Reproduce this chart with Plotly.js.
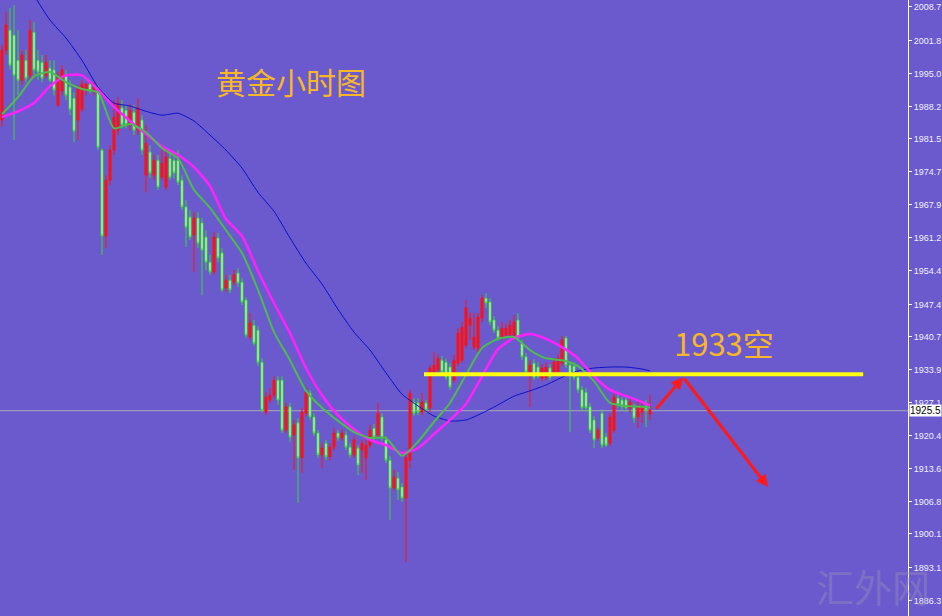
<!DOCTYPE html>
<html>
<head>
<meta charset="utf-8">
<script src="https://cdn.plot.ly/plotly-3.0.1.min.js"></script>
<style>html,body{margin:0;padding:0;background:#6a5acd;}#chart{width:942px;height:616px;}</style>
</head>
<body>
<div id="chart"></div>
<script>
// ---- candle data (hourly gold) ----
const openP = [
1985.4,1999.8,2003.9,2002.9,1997.7,1993.6,1997.7,1994.6,2003.5,1997.7,
1997.3,1994.6,1996.1,1995.7,1988.5,1991.4,1994.4,1992.2,1989.9,1985.4,
1987.6,1991.4,1992.8,1991.4,1991.4,1979.2,1961.5,1973.0,1979.2,1983.3,
1987.9,1987.4,1984.4,1987.0,1983.3,1985.4,1974.0,1978.8,1974.0,1977.1,
1973.6,1971.6,1977.5,1977.1,1977.1,1973.0,1967.5,1965.4,1961.7,1965.2,
1964.2,1961.3,1956.1,1954.1,1961.1,1958.0,1950.8,1952.4,1952.0,1953.9,
1952.0,1948.3,1940.7,1943.1,1942.1,1935.5,1925.2,1927.7,1928.7,1931.8,
1931.8,1921.5,1926.3,1920.5,1923.0,1915.8,1925.0,1929.1,1924.2,1920.9,
1916.4,1918.8,1916.0,1918.0,1920.9,1919.9,1920.5,1918.0,1916.4,1917.8,
1917.4,1915.8,1918.4,1921.9,1920.5,1924.2,1919.5,1915.3,1909.6,1911.6,
1909.8,1907.5,1915.3,1927.3,1927.1,1925.2,1927.1,1926.1,1933.5,1933.9,
1935.9,1935.5,1934.5,1931.8,1935.3,1935.9,1939.0,1943.1,1938.6,1938.4,
1944.6,1948.7,1947.9,1944.2,1942.1,1940.7,1941.1,1941.1,1941.1,1944.2,
1939.4,1936.6,1933.5,1935.3,1934.5,1932.2,1932.4,1934.3,1933.3,1933.5,
1935.3,1940.5,1934.9,1934.7,1932.4,1929.8,1929.3,1926.3,1923.6,1919.9,
1925.0,1920.1,1918.8,1921.5,1928.1,1927.7,1927.7,1926.1,1926.1,1924.2,
1925.2,1926.5,1924.8];
const highP = [
2000.8,2007.6,2008.5,2009.1,2003.9,1999.8,1999.8,2006.0,2005.6,1999.8,
1998.8,1998.8,1997.7,1997.7,1995.3,1996.7,1995.7,1993.6,1991.1,1992.6,
1993.6,1993.2,1993.6,1993.2,1992.6,1979.6,1974.0,1980.2,1989.5,1990.1,
1989.5,1988.5,1988.7,1988.5,1989.9,1986.4,1984.4,1980.2,1978.2,1978.2,
1980.2,1979.2,1979.2,1978.2,1979.2,1974.0,1968.9,1966.8,1966.4,1966.4,
1965.2,1962.7,1957.6,1962.3,1962.1,1959.0,1953.5,1953.5,1954.5,1954.9,
1952.8,1948.9,1945.6,1944.2,1942.9,1936.3,1929.3,1930.2,1932.6,1932.6,
1932.6,1927.1,1927.1,1923.6,1924.0,1926.1,1930.2,1929.8,1925.0,1921.5,
1918.8,1919.5,1918.8,1921.9,1921.5,1921.7,1921.3,1918.8,1920.3,1918.4,
1919.5,1919.5,1922.6,1922.8,1927.1,1925.0,1920.3,1916.2,1913.3,1912.9,
1910.6,1916.6,1929.8,1928.1,1928.1,1929.1,1927.7,1934.9,1937.6,1937.0,
1936.8,1936.3,1935.3,1937.0,1942.5,1943.8,1948.3,1945.8,1945.6,1945.6,
1949.3,1949.7,1948.7,1945.0,1942.9,1943.8,1943.4,1944.2,1945.2,1945.6,
1940.1,1937.4,1935.9,1936.1,1935.5,1935.1,1935.5,1935.1,1936.3,1937.2,
1940.9,1940.9,1935.7,1935.5,1933.3,1930.6,1930.2,1927.1,1924.4,1922.1,
1925.8,1920.9,1925.0,1929.1,1928.7,1928.3,1928.3,1928.1,1926.9,1927.7,
1927.7,1927.7,1928.7];
const lowP = [
1984.0,1998.8,1995.7,1981.3,1990.5,1992.6,1993.2,1993.6,1994.6,1993.6,
1993.2,1994.0,1993.2,1990.5,1988.1,1990.5,1989.5,1986.4,1980.8,1981.3,
1987.0,1990.5,1990.9,1990.5,1979.2,1957.6,1959.0,1972.0,1978.2,1982.3,
1983.7,1983.7,1983.3,1982.3,1982.3,1978.2,1970.5,1973.4,1973.0,1971.0,
1973.0,1971.0,1973.0,1973.4,1972.0,1966.8,1959.2,1960.7,1954.1,1959.0,
1949.3,1954.5,1953.5,1953.5,1956.1,1950.0,1950.0,1949.7,1951.4,1951.0,
1947.3,1940.5,1940.1,1938.8,1934.7,1925.2,1924.6,1927.1,1928.1,1926.7,
1920.9,1920.9,1919.1,1913.3,1906.5,1912.7,1924.4,1923.6,1920.3,1915.8,
1913.7,1915.3,1915.3,1917.4,1919.3,1919.3,1917.4,1915.8,1915.8,1912.2,
1912.7,1911.2,1917.8,1919.5,1919.9,1919.3,1914.7,1903.0,1909.0,1907.1,
1906.7,1894.3,1913.7,1924.4,1924.6,1924.6,1925.0,1925.2,1932.9,1933.3,
1932.9,1931.8,1929.8,1931.2,1934.7,1935.3,1938.4,1940.1,1938.0,1937.6,
1943.8,1946.7,1943.1,1941.5,1939.9,1940.1,1940.5,1940.5,1940.5,1939.9,
1935.9,1932.9,1926.3,1931.8,1932.2,1931.6,1931.8,1931.8,1932.6,1932.9,
1934.7,1934.3,1921.1,1931.8,1929.1,1925.4,1925.2,1920.9,1917.8,1919.3,
1917.8,1918.0,1918.2,1920.9,1926.1,1925.6,1925.2,1925.2,1923.0,1921.9,
1923.0,1922.1,1923.6];
const closeP = [
1999.8,2005.0,1996.7,1994.6,1993.6,1998.8,1994.0,2003.9,1995.7,1995.3,
1994.0,1997.3,1993.6,1991.6,1994.4,1995.7,1990.5,1987.6,1983.1,1991.8,
1992.8,1992.8,1991.4,1992.4,1979.8,1961.5,1973.0,1979.2,1986.0,1988.9,
1984.4,1984.4,1987.4,1983.3,1987.9,1979.2,1980.6,1974.5,1977.1,1971.6,
1976.5,1977.8,1973.6,1974.5,1972.6,1967.5,1963.3,1961.3,1965.2,1960.0,
1958.6,1956.1,1954.1,1961.3,1957.0,1950.4,1952.4,1950.4,1953.5,1951.8,
1947.9,1941.1,1943.6,1939.4,1935.5,1925.6,1928.3,1928.7,1931.8,1927.7,
1921.5,1926.3,1920.1,1922.6,1915.8,1925.2,1929.3,1924.2,1920.9,1916.4,
1917.8,1916.0,1918.0,1920.9,1919.9,1920.9,1918.0,1916.4,1919.5,1914.3,
1918.8,1918.4,1921.5,1920.1,1925.0,1919.9,1915.3,1909.6,1911.8,1909.2,
1907.5,1915.8,1929.1,1925.0,1925.2,1927.3,1925.6,1934.3,1934.9,1936.3,
1933.5,1932.4,1930.4,1935.9,1941.5,1942.7,1946.7,1944.6,1940.7,1944.8,
1948.7,1947.7,1943.8,1942.1,1940.5,1942.5,1942.5,1943.1,1943.8,1940.5,
1936.6,1933.5,1934.9,1932.4,1932.9,1934.3,1934.5,1932.4,1935.5,1936.3,
1940.1,1934.9,1932.9,1932.4,1929.8,1926.1,1926.1,1921.5,1919.5,1921.5,
1918.4,1918.4,1924.2,1928.3,1926.7,1926.3,1926.1,1927.3,1924.0,1926.3,
1926.3,1925.6,1925.6];
const barIndex = closeP.map((_, i) => i);

// ---- moving averages ----
const maIdx = [0,4,8,12,16,20,24,28,32,36,40,44,48,52,56,60,64,68,72,76,80,84,88,92,96,100,104,108,112,116,120,124,128,132,136,140,144,148,152,156,160,162];
const maFast = [1986.6,1990.1,1994.4,1995.3,1993.2,1991.8,1991.1,1983.7,1984.6,1982.9,
1979.6,1977.5,1971.0,1967.3,1962.7,1958.0,1950.4,1941.7,1935.9,1929.6,
1926.1,1923.4,1921.1,1919.9,1919.9,1916.2,1919.1,1923.2,1927.1,1932.9,
1938.4,1940.3,1940.7,1938.0,1936.3,1935.9,1934.7,1931.6,1927.1,1926.5,
1926.3,1926.1];
const maMid = [1986.0,1987.2,1988.9,1992.4,1994.6,1994.6,1991.6,1988.1,1985.2,1982.5,
1980.0,1978.2,1975.7,1971.8,1965.0,1961.5,1954.3,1947.7,1941.5,1934.3,
1928.7,1924.6,1921.7,1919.5,1918.4,1916.8,1917.8,1920.7,1923.6,1926.9,
1932.6,1938.2,1940.5,1941.3,1940.3,1938.6,1936.3,1932.6,1929.8,1928.5,
1927.3,1926.5];
const maSlowIdx = [8,12,16,20,24,28,32,36,40,44,48,52,56,60,64,68,72,76,80,84,88,92,96,100,104,108,112,116,120,124,128,132,136,140,144,148,152,156,160,162];
const maSlow = [2011.1,2006.0,2002.3,1997.7,1992.2,1988.9,1988.3,1987.2,1986.4,1986.8,
1985.2,1982.3,1979.2,1975.5,1970.5,1966.6,1961.1,1955.9,1951.6,1946.4,
1941.7,1938.0,1933.3,1928.9,1926.5,1924.4,1923.4,1923.6,1925.0,1926.7,
1928.5,1929.6,1930.8,1932.4,1933.7,1934.3,1934.5,1934.5,1934.1,1933.7];

// ---- axis labels and levels ----
const priceTicks = [2008.7,2001.8,1995.0,1988.2,1981.5,1974.7,1967.9,1961.2,1954.4,1947.4,1940.7,1933.9,1927.1,1920.4,1913.6,1906.8,1900.1,1893.1,1886.3];
const tickLabels = priceTicks.map(v => v.toFixed(1));
const lastPrice = 1925.5;
const shortLevel = 1933;
const arrowPts = {x: [163.3, 170.3, 191.5], y: [1925.6, 1932.4, 1909.8]};
const lineStartIdx = 105.5, lineEndIdx = 215.3;

const traces = [
  {type:'candlestick', x: barIndex, open: openP, high: highP, low: lowP, close: closeP,
   increasing:{line:{color:'#ff1010', width:1}, fillcolor:'#ff1010'},
   decreasing:{line:{color:'#33dd33', width:1}, fillcolor:'#f8fcee'},
   whiskerwidth: 0, hoverinfo:'skip', showlegend:false},
  {type:'scatter', mode:'lines', x: maSlowIdx, y: maSlow, line:{color:'#0a10c8', width:1, shape:'spline', smoothing:0.6}, hoverinfo:'skip', showlegend:false},
  {type:'scatter', mode:'lines', x: maIdx, y: maMid, line:{color:'#ff22ff', width:2.5, shape:'spline', smoothing:0.6}, hoverinfo:'skip', showlegend:false},
  {type:'scatter', mode:'lines', x: maIdx, y: maFast, line:{color:'#4cbb50', width:2, shape:'spline', smoothing:0.6}, hoverinfo:'skip', showlegend:false}
];

const layout = {
  width: 942, height: 616,
  margin: {l:0, r:34, t:0, b:0},
  paper_bgcolor: '#6a5acd', plot_bgcolor: '#6a5acd',
  showlegend: false,
  xaxis: {range:[-0.5, 226.5], visible:false, rangeslider:{visible:false}, fixedrange:true},
  yaxis: {range:[1883.2, 2010.14], side:'right', showgrid:false, zeroline:false,
          showline:true, linecolor:'#ffffff', linewidth:1, mirror:false,
          ticks:'outside', ticklen:3, tickcolor:'#ffffff', tickwidth:1,
          tickvals: priceTicks, ticktext: tickLabels,
          tickfont:{family:'Liberation Sans, Arial, sans-serif', size:9, color:'#f0f0f8'}},
  shapes: [
    {type:'line', xref:'paper', x0:0, x1:1, yref:'y', y0:lastPrice, y1:lastPrice, line:{color:'#a8a8b8', width:1}, layer:'below'},
    {type:'line', xref:'x', x0:lineStartIdx, x1:lineEndIdx, yref:'y', y0:shortLevel, y1:shortLevel, line:{color:'#ffff10', width:4}}
  ],
  annotations: [
    {xref:'paper', yref:'paper', x:0.3205, y:0.8685, xanchor:'center', yanchor:'middle', text:'黄金小时图', showarrow:false,
     font:{family:'Noto Sans CJK SC', size:30, color:'#f7b726'}},
    {xref:'paper', yref:'paper', x:0.797, y:0.4448, xanchor:'center', yanchor:'middle', text:'1933空', showarrow:false,
     font:{family:'Noto Sans CJK SC', size:31, color:'#f7b726'}},
    {xref:'paper', yref:'paper', x:0.962, y:0.0503, xanchor:'center', yanchor:'middle', text:'汇外网', showarrow:false,
     font:{family:'Noto Sans CJK SC', size:38, color:'rgba(150,140,185,0.45)'}},
    {xref:'paper', yref:'y', x:1, xanchor:'left', xshift:1, y:lastPrice, yanchor:'middle', text:lastPrice.toFixed(1), showarrow:false,
     bgcolor:'#ffffff', borderpad:0, font:{family:'Liberation Sans, Arial, sans-serif', size:10, color:'#000000'}},
    {xref:'x', yref:'y', axref:'x', ayref:'y', x:arrowPts.x[1], y:arrowPts.y[1], ax:arrowPts.x[0], ay:arrowPts.y[0],
     showarrow:true, arrowhead:2, arrowsize:0.8, arrowwidth:3, arrowcolor:'#ff1a1a', standoff:0, text:''},
    {xref:'x', yref:'y', axref:'x', ayref:'y', x:arrowPts.x[2], y:arrowPts.y[2], ax:arrowPts.x[1], ay:arrowPts.y[1],
     showarrow:true, arrowhead:2, arrowsize:0.8, arrowwidth:3, arrowcolor:'#ff1a1a', standoff:0, text:''}
  ]
};

Plotly.newPlot('chart', traces, layout, {staticPlot:true, displayModeBar:false});
</script>
</body>
</html>
